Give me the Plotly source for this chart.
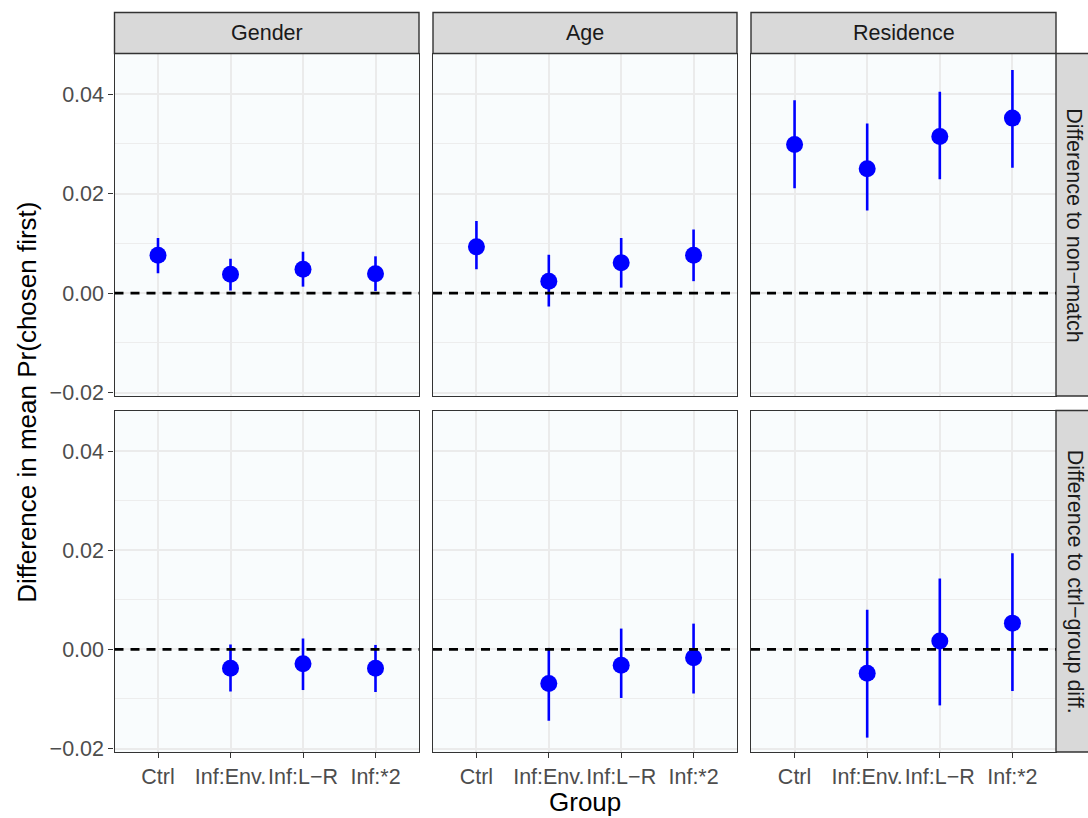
import plotly.graph_objects as go

# ---------------- data ----------------
groups = ["Ctrl", "Inf:Env.", "Inf:L\u2212R", "Inf:*2"]
facets = ["Gender", "Age", "Residence"]
row_labels = ["Difference to non\u2212match", "Difference to ctrl\u2212group diff."]

# Row 1: difference to non-match (estimate, lower, upper)
gender_nm = [0.0076, 0.0038, 0.0048, 0.0039]
gender_nm_lo = [0.0040, 0.0005, 0.0013, 0.0004]
gender_nm_hi = [0.0111, 0.0069, 0.0083, 0.0074]

age_nm = [0.0093, 0.0024, 0.0061, 0.0076]
age_nm_lo = [0.0048, -0.0027, 0.0011, 0.0024]
age_nm_hi = [0.0145, 0.0077, 0.0111, 0.0128]

res_nm = [0.0299, 0.0250, 0.0315, 0.0352]
res_nm_lo = [0.0211, 0.0166, 0.0229, 0.0252]
res_nm_hi = [0.0388, 0.0341, 0.0405, 0.0449]

# Row 2: difference to ctrl-group difference (Ctrl is missing)
gender_cd = [None, -0.0038, -0.0029, -0.0038]
gender_cd_lo = [None, -0.0085, -0.0082, -0.0086]
gender_cd_hi = [None, 0.0010, 0.0022, 0.0009]

age_cd = [None, -0.0069, -0.0032, -0.0017]
age_cd_lo = [None, -0.0144, -0.0098, -0.0089]
age_cd_hi = [None, 0.0003, 0.0042, 0.0052]

res_cd = [None, -0.0048, 0.0017, 0.0053]
res_cd_lo = [None, -0.0178, -0.0113, -0.0084]
res_cd_hi = [None, 0.0080, 0.0143, 0.0194]

y_ticks = [-0.02, 0.0, 0.02, 0.04]
y_tick_text = ["\u22120.02", "0.00", "0.02", "0.04"]
y_minor = [-0.01, 0.01, 0.03]

panels = [
    [(gender_nm, gender_nm_lo, gender_nm_hi), (age_nm, age_nm_lo, age_nm_hi), (res_nm, res_nm_lo, res_nm_hi)],
    [(gender_cd, gender_cd_lo, gender_cd_hi), (age_cd, age_cd_lo, age_cd_hi), (res_cd, res_cd_lo, res_cd_hi)],
]

# ---------------- layout geometry ----------------
W, H = 1088, 818
FONT = "Liberation Sans, Arial, Helvetica, sans-serif"
col_px = [(114.5, 419), (433, 737), (751, 1056)]
row_px = [(53.5, 396), (410.5, 752)]
STRIP = 41
TICK_SIZE = 21.5
STRIP_SIZE = 21.5
TITLE_SIZE = 26

def xd(a, b):
    return [a / W, b / W]

def yd(top, bot):
    return [1 - bot / H, 1 - top / H]

fig = go.Figure()
layout = dict(
    width=W, height=H,
    margin=dict(l=0, r=0, t=0, b=0, autoexpand=False),
    paper_bgcolor="white",
    plot_bgcolor="#F9FCFD",
    showlegend=False,
    font=dict(family=FONT, size=TICK_SIZE, color="#4D4D4D"),
)
shapes = []
annotations = []

idx = 0
for r in range(2):
    for c in range(3):
        idx += 1
        xa = "xaxis" if idx == 1 else f"xaxis{idx}"
        ya = "yaxis" if idx == 1 else f"yaxis{idx}"
        xr = "x" if idx == 1 else f"x{idx}"
        yr = "y" if idx == 1 else f"y{idx}"
        vals, lo, hi = panels[r][c]
        plus = [(h - v) if v is not None else 0 for v, h in zip(vals, hi)]
        minus = [(v - l) if v is not None else 0 for v, l in zip(vals, lo)]
        fig.add_trace(go.Scatter(
            x=groups, y=vals, mode="markers",
            marker=dict(color="blue", size=17, line=dict(width=0)),
            error_y=dict(type="data", symmetric=False, array=plus, arrayminus=minus,
                         width=0, thickness=2.6, color="blue"),
            xaxis=xr, yaxis=yr, cliponaxis=False, hoverinfo="skip",
        ))
        layout[xa] = dict(
            domain=xd(*col_px[c]), anchor=yr,
            type="category", categoryorder="array", categoryarray=groups,
            range=[-0.6, 3.6], automargin=False, tickangle=0,
            showgrid=True, gridcolor="#EBEBEB", gridwidth=2,
            showline=True, mirror=True, linecolor="#333333", linewidth=1.4,
            zeroline=False,
            ticks="outside" if r == 1 else "", ticklen=5, tickwidth=1.4, tickcolor="#333333",
            showticklabels=(r == 1),
            tickfont=dict(family=FONT, size=TICK_SIZE, color="#4D4D4D"),
        )
        layout[ya] = dict(
            domain=yd(*row_px[r]), anchor=xr,
            range=[-0.0207, 0.0482], automargin=False,
            tickvals=y_ticks, ticktext=y_tick_text,
            showgrid=True, gridcolor="#EBEBEB", gridwidth=2,
            minor=dict(tickvals=y_minor, showgrid=True, gridcolor="#EDEDED",
                       gridwidth=1, ticks=""),
            showline=True, mirror=True, linecolor="#333333", linewidth=1.4,
            zeroline=False,
            ticks="outside" if c == 0 else "", ticklen=5, tickwidth=1.4, tickcolor="#333333",
            showticklabels=(c == 0),
            tickfont=dict(family=FONT, size=TICK_SIZE, color="#4D4D4D"),
        )
        # dashed zero reference line
        shapes.append(dict(type="line", xref=f"{xr} domain", yref=yr, x0=0, x1=1, y0=0, y1=0,
                           line=dict(color="black", width=2.6, dash="9px,7px"), layer="above"))

# top strips
for c, name in enumerate(facets):
    a, b = col_px[c]
    top = row_px[0][0] - STRIP
    shapes.append(dict(type="rect", xref="paper", yref="paper",
                       x0=a / W, x1=b / W, y0=1 - row_px[0][0] / H, y1=1 - top / H,
                       fillcolor="#D9D9D9", line=dict(color="#333333", width=1.4), layer="above"))
    annotations.append(dict(text=name, xref="paper", yref="paper",
                            x=(a + b) / 2 / W, y=1 - (top + STRIP / 2) / H,
                            showarrow=False, xanchor="center", yanchor="middle",
                            font=dict(family=FONT, size=STRIP_SIZE, color="#1A1A1A")))

# right strips
for r, name in enumerate(row_labels):
    t, b = row_px[r]
    left = col_px[2][1]
    shapes.append(dict(type="rect", xref="paper", yref="paper",
                       x0=left / W, x1=(left + STRIP) / W, y0=1 - b / H, y1=1 - t / H,
                       fillcolor="#D9D9D9", line=dict(color="#333333", width=1.4), layer="above"))
    annotations.append(dict(text=name, xref="paper", yref="paper",
                            x=(left + STRIP / 2 - 2) / W, y=1 - (t + b) / 2 / H,
                            showarrow=False, xanchor="center", yanchor="middle", textangle=90,
                            font=dict(family=FONT, size=STRIP_SIZE, color="#1A1A1A")))

# axis titles
annotations.append(dict(text="Group", xref="paper", yref="paper",
                        x=(col_px[0][0] + col_px[2][1]) / 2 / W, y=1 - 802 / H,
                        showarrow=False, xanchor="center", yanchor="middle",
                        font=dict(family=FONT, size=TITLE_SIZE, color="black")))
annotations.append(dict(text="Difference in mean Pr(chosen first)", xref="paper", yref="paper",
                        x=27 / W, y=1 - (row_px[0][0] + row_px[1][1]) / 2 / H,
                        showarrow=False, xanchor="center", yanchor="middle", textangle=-90,
                        font=dict(family=FONT, size=TITLE_SIZE, color="black")))

layout["shapes"] = shapes
layout["annotations"] = annotations
fig.update_layout(**layout)
fig.write_html("out.html")
